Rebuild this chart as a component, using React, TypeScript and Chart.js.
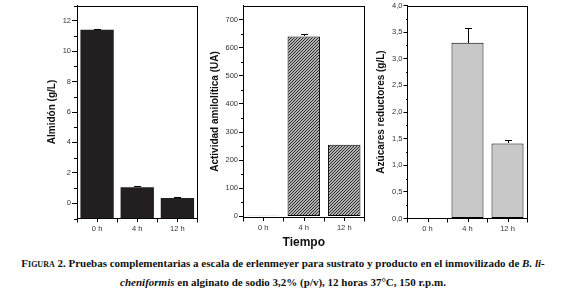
import React, { useEffect, useRef } from 'react';
import { Chart, registerables } from 'chart.js';
Chart.register(...registerables);

// ---------- data ----------
const categories = ['0 h', '4 h', '12 h'];

const almidonValues = [11.4, 1.05, 0.35];
const almidonErrors = [0.08, 0.06, 0.05];
const almidonTicks = [0, 2, 4, 6, 8, 10, 12];
const almidonMinor = [-1, 1, 3, 5, 7, 9, 11, 13];

const actividadValues = [2, 640, 255];
const actividadErrors = [0, 8, 0];
const actividadTicks = [0, 100, 200, 300, 400, 500, 600, 700];
const actividadMinor = [50, 150, 250, 350, 450, 550, 650];

const azucaresValues = [0, 3.3, 1.41];
const azucaresErrors = [0, 0.28, 0.07];
const azucaresTicks = [0, 0.5, 1, 1.5, 2, 2.5, 3, 3.5, 4];
const azucaresMinor = [0.25, 0.75, 1.25, 1.75, 2.25, 2.75, 3.25, 3.75];

const FONT = '"Liberation Sans", Arial, sans-serif';

type Spec = {
  id: string;
  left: number; width: number; height: number;
  padRight: number; padTop: number;
  yWidth: number; xHeight: number;
  yTitle: string; yTitleCenter: number;
  xTitle?: string;
  values: number[]; errors: number[];
  base?: number;
  fill: 'solid' | 'hatch' | 'light';
  yMin: number; yMax: number; yTicks: number[]; yMinor: number[];
  tickLen: number; minorLen: number;
  fmt: (v: number) => string;
  barPct: number;
};

function makeHatch(): CanvasPattern | string {
  const c = document.createElement('canvas');
  c.width = 3; c.height = 3;
  const g = c.getContext('2d');
  if (!g) return '#7a7a7a';
  g.fillStyle = '#b4b4b4';
  g.fillRect(0, 0, 3, 3);
  g.strokeStyle = '#1a1a1a';
  g.lineWidth = 0.9;
  g.beginPath();
  g.moveTo(0, 3); g.lineTo(3, 0);
  g.moveTo(-1.5, 1.5); g.lineTo(1.5, -1.5);
  g.moveTo(1.5, 4.5); g.lineTo(4.5, 1.5);
  g.stroke();
  return g.createPattern(c, 'repeat') || '#7a7a7a';
}

function Panel({ s }: { s: Spec }) {
  const ref = useRef<HTMLCanvasElement>(null);
  useEffect(() => {
    if (!ref.current) return;
    let bg: any = '#231f20';
    let bc = '#231f20';
    let bw: any = 0;
    if (s.fill === 'hatch') { bg = makeHatch(); bc = '#000'; bw = 1; }
    if (s.fill === 'light') { bg = '#c8c8c8'; bc = '#000'; bw = s.values.map((v) => (v === 0 ? 0 : 1)); }

    const deco = {
      id: 'deco_' + s.id,
      afterDatasetsDraw(chart: any) {
        const ctx = chart.ctx;
        const ys = chart.scales.y;
        const xs = chart.scales.x;
        const n = categories.length;
        const c0 = xs.getPixelForValue(0);
        const cN = xs.getPixelForValue(n - 1);
        const half = (cN - c0) / (n - 1) / 2;
        const L = Math.round(c0 - half);
        const R = Math.round(cN + half);
        const T = Math.round(ys.getPixelForValue(s.yMax));
        const B = Math.round(ys.getPixelForValue(s.yMin));
        ctx.save();
        ctx.fillStyle = '#000';
        // frame: top and right edges
        ctx.fillRect(L, T, R - L, 1);
        ctx.fillRect(R - 1, T, 1, B - T);
        // minor y ticks
        s.yMinor.forEach((v) => {
          const y = Math.round(ys.getPixelForValue(v));
          ctx.fillRect(L - s.minorLen, y, s.minorLen, 1);
        });
        // center x ticks
        for (let i = 0; i < n; i++) {
          const x = Math.round(xs.getPixelForValue(i));
          ctx.fillRect(x, B, 1, 3);
        }
        // error bars
        const meta = chart.getDatasetMeta(0);
        meta.data.forEach((el: any, i: number) => {
          const e = s.errors[i];
          if (!e) return;
          const x = Math.round(el.x);
          const y0 = Math.round(ys.getPixelForValue(s.values[i]));
          const y1 = Math.round(ys.getPixelForValue(s.values[i] + e));
          ctx.fillRect(x, y1, 1, y0 - y1);
          ctx.fillRect(x - 3, y1, 7, 1);
        });
        ctx.restore();
      },
    };

    const chart = new Chart(ref.current, {
      type: 'bar',
      data: {
        labels: categories,
        datasets: [{
          data: s.values,
          backgroundColor: bg,
          borderColor: bc,
          borderWidth: bw,
          borderSkipped: false,
          barPercentage: s.barPct,
          categoryPercentage: 1,
          ...(s.base !== undefined ? { base: s.base } : {}),
        } as any],
      },
      options: {
        animation: false,
        responsive: false,
        maintainAspectRatio: false,
        events: [],
        layout: { padding: { top: s.padTop, right: s.padRight, left: 0, bottom: 0 } },
        plugins: { legend: { display: false }, tooltip: { enabled: false } },
        scales: {
          x: {
            position: 'bottom',
            offset: true,
            grid: { display: true, drawOnChartArea: false, offset: true, tickLength: 4, color: '#000', lineWidth: 1 },
            border: { display: true, color: '#000', width: 1 },
            ticks: { color: '#333', font: { family: FONT, size: 7.5 }, padding: 2, maxRotation: 0 },
            title: s.xTitle
              ? { display: true, text: s.xTitle, color: '#111', font: { family: FONT, size: 12, weight: 'bold' }, padding: { top: 0, bottom: 0 } }
              : { display: false },
            afterFit: (sc: any) => { sc.height = s.xHeight; },
          },
          y: {
            position: 'left',
            min: s.yMin,
            max: s.yMax,
            grid: { display: true, drawOnChartArea: false, tickLength: s.tickLen, color: '#000', lineWidth: 1 },
            border: { display: true, color: '#000', width: 1 },
            ticks: {
              color: '#333',
              font: { family: FONT, size: 7.5 },
              padding: 1,
              callback: (v: any) => s.fmt(Number(v)),
            },
            afterBuildTicks: (sc: any) => { sc.ticks = s.yTicks.map((v) => ({ value: v })); },
            title: {
              display: true, text: s.yTitle, color: '#111',
              font: { family: FONT, size: 10, weight: 'bold' },
              padding: { top: s.yTitleCenter - 6, bottom: 0 },
            },
            afterFit: (sc: any) => { sc.width = s.yWidth; },
          },
        },
      } as any,
      plugins: [deco],
    });
    return () => chart.destroy();
  }, []);
  return (
    <canvas
      ref={ref}
      width={s.width}
      height={s.height}
      style={{ position: 'absolute', left: s.left, top: 0, width: s.width, height: s.height }}
    />
  );
}

const specs: Spec[] = [
  {
    id: 'p1', left: 0, width: 205, height: 250, padRight: 7.5, padTop: 5,
    yWidth: 77, xHeight: 31.5, yTitle: 'Almidón (g/L)', yTitleCenter: 52,
    values: almidonValues, errors: almidonErrors, base: -1, fill: 'solid',
    yMin: -1, yMax: 13, yTicks: almidonTicks, yMinor: almidonMinor,
    tickLen: 5, minorLen: 3, fmt: (v) => String(v), barPct: 0.83,
  },
  {
    id: 'p2', left: 170, width: 200, height: 250, padRight: 5.5, padTop: 5,
    yWidth: 73, xHeight: 32.5, yTitle: 'Actividad amilolítica (UA)', yTitleCenter: 45,
    xTitle: 'Tiempo',
    values: actividadValues, errors: actividadErrors, fill: 'hatch',
    yMin: -4, yMax: 750, yTicks: actividadTicks, yMinor: actividadMinor,
    tickLen: 4, minorLen: 2, fmt: (v) => String(v), barPct: 0.8,
  },
  {
    id: 'p3', left: 335, width: 215, height: 250, padRight: 22.5, padTop: 5,
    yWidth: 72.5, xHeight: 31.5, yTitle: 'Azúcares reductores (g/L)', yTitleCenter: 46,
    values: azucaresValues, errors: azucaresErrors, fill: 'light',
    yMin: 0, yMax: 4, yTicks: azucaresTicks, yMinor: azucaresMinor,
    tickLen: 4, minorLen: 2, fmt: (v) => v.toFixed(1).replace('.', ','), barPct: 0.8,
  },
];

const captionStyle: React.CSSProperties = {
  position: 'absolute',
  left: 0,
  width: 566,
  textAlign: 'center',
  fontFamily: '"Liberation Serif", "Times New Roman", serif',
  fontWeight: 'bold',
  fontSize: 11,
  lineHeight: '16px',
  color: '#111',
  whiteSpace: 'nowrap',
};

export default function App() {
  return (
    <div style={{ position: 'absolute', left: 0, top: 0, width: 566, height: 297, background: '#fff', overflow: 'hidden' }}>
      {specs.map((s) => <Panel key={s.id} s={s} />)}
      <div style={{ ...captionStyle, top: 255 }}>
        <span style={{ fontVariant: 'small-caps' }}>Figura</span> 2. Pruebas complementarias a escala de erlenmeyer para sustrato y producto en el inmovilizado de <i>B. li-</i>
      </div>
      <div style={{ ...captionStyle, top: 274 }}>
        <i>cheniformis</i> en alginato de sodio 3,2% (p/v), 12 horas 37°C, 150 r.p.m.
      </div>
    </div>
  );
}
